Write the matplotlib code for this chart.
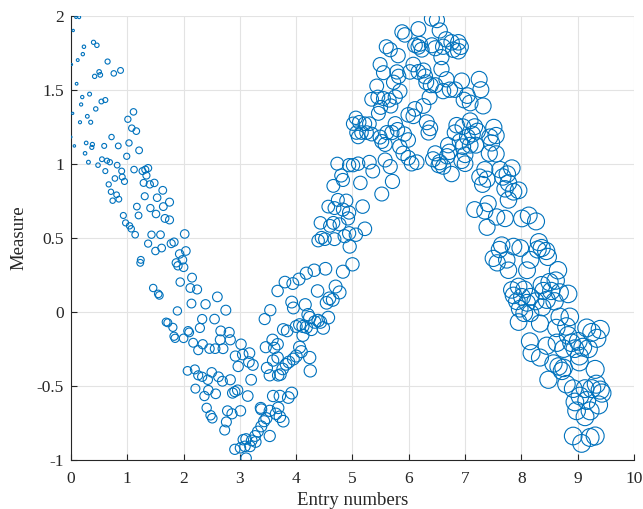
import matplotlib
matplotlib.use("Agg")
import matplotlib.pyplot as plt

# points, grouped along the curve
start_pts = [
    (0.09, 1.99), (0.145, 1.99), (0.04, 1.90), (0.40, 1.82), (0.46, 1.80), (0.23, 1.79),
    (0.21, 1.74), (0.12, 1.70), (0.01, 1.67), (0.65, 1.69), (0.88, 1.63), (0.76, 1.61),
    (0.50, 1.62), (0.52, 1.60), (0.42, 1.59), (0.10, 1.54), (0.33, 1.47), (0.20, 1.45),
    (0.61, 1.43), (0.54, 1.42), (0.18, 1.40), (0.44, 1.37), (0.03, 1.34), (0.29, 1.32),
    (1.11, 1.35), (0.16, 1.28), (0.35, 1.28), (1.01, 1.30), (1.08, 1.24), (1.16, 1.22),
    (0.00, 1.18), (0.72, 1.18), (0.27, 1.14), (0.38, 1.13), (0.37, 1.11), (0.06, 1.12),
    (0.59, 1.12), (0.84, 1.12), (1.03, 1.14), (0.25, 1.07), (1.21, 1.09), (0.99, 1.05),
    (0.55, 1.03), (0.64, 1.02), (0.69, 1.01), (0.31, 1.01), (0.48, 0.99), (0.82, 0.99),
    (0.90, 0.95), (0.61, 0.95), (1.12, 0.96), (1.27, 0.95), (1.32, 0.96), (1.37, 0.97),
    (1.34, 0.92), (0.91, 0.91), (0.95, 0.88), (0.78, 0.90), (1.29, 0.87), (1.40, 0.86),
    (1.48, 0.87), (0.67, 0.86), (1.63, 0.82), (0.71, 0.81), (0.81, 0.79), (1.31, 0.78),
    (1.53, 0.77), (0.74, 0.75), (0.85, 0.76), (1.17, 0.71), (1.41, 0.70), (1.64, 0.71),
    (1.75, 0.74), (0.93, 0.65), (0.97, 0.60), (1.04, 0.58), (1.07, 0.56), (1.14, 0.52),
    (1.20, 0.65), (1.37, 0.46), (1.24, 0.35), (1.23, 0.33),
]

descent_pts = [
    (1.51, 0.66), (1.67, 0.63), (1.75, 0.62), (1.43, 0.52), (1.59, 0.52), (2.02, 0.525),
    (1.78, 0.46), (1.83, 0.47), (1.61, 0.43), (1.50, 0.41), (2.04, 0.41), (1.93, 0.39),
    (1.98, 0.35), (1.87, 0.33), (1.90, 0.31), (2.00, 0.30), (2.15, 0.23), (1.94, 0.20),
    (1.46, 0.16), (1.55, 0.12), (1.57, 0.11), (2.12, 0.16), (2.24, 0.15), (2.60, 0.10),
    (2.14, 0.055), (2.39, 0.05), (2.75, 0.01), (1.89, 0.005), (2.33, -0.05), (2.55, -0.05),
    (1.69, -0.07), (1.72, -0.075), (1.81, -0.106), (2.29, -0.11), (2.08, -0.13), (2.10, -0.14),
    (2.66, -0.13), (2.81, -0.14), (1.83, -0.166), (1.85, -0.18), (2.00, -0.18), (2.65, -0.19),
    (2.83, -0.19), (2.17, -0.21), (2.34, -0.22), (3.02, -0.22), (2.56, -0.25), (2.70, -0.25),
]

trough_pts = [
    (2.26, -0.26), (2.46, -0.25), (3.46, -0.24), (3.61, -0.245), (3.67, -0.22), (2.92, -0.30),
    (3.05, -0.29), (3.17, -0.28), (3.16, -0.34), (3.23, -0.36), (2.97, -0.37), (3.48, -0.38),
    (3.59, -0.33), (3.67, -0.31), (2.07, -0.40), (2.20, -0.39), (2.26, -0.43), (2.33, -0.44),
    (2.50, -0.41), (2.43, -0.46), (2.62, -0.44), (2.69, -0.47), (2.83, -0.46), (3.20, -0.46),
    (3.53, -0.43), (3.68, -0.43), (2.21, -0.52), (2.44, -0.53), (2.37, -0.57), (2.57, -0.555),
    (2.87, -0.55), (2.91, -0.54), (2.96, -0.53), (3.14, -0.57), (3.59, -0.57), (2.41, -0.65),
    (2.78, -0.67), (2.86, -0.69), (3.01, -0.67), (3.37, -0.65), (3.38, -0.66), (3.53, -0.67),
    (3.64, -0.69), (3.68, -0.65), (2.48, -0.70), (2.51, -0.72), (3.47, -0.72), (3.43, -0.74),
    (2.76, -0.745), (3.38, -0.775), (3.32, -0.81), (3.27, -0.84), (3.21, -0.87), (2.73, -0.80),
    (3.53, -0.84), (3.06, -0.865), (3.11, -0.86), (3.28, -0.88), (3.18, -0.91), (2.91, -0.93),
    (3.01, -0.92), (3.09, -0.91), (3.11, -0.99),
]

rise_pts = [
    (4.39, 0.48), (4.45, 0.50), (4.51, 0.49), (4.68, 0.49), (4.86, 0.51), (4.94, 0.53),
    (5.06, 0.52), (4.95, 0.44), (5.00, 0.32), (4.83, 0.27), (4.52, 0.29), (4.32, 0.28),
    (4.18, 0.26), (4.05, 0.22), (3.94, 0.19), (3.80, 0.20), (3.67, 0.14), (4.70, 0.17),
    (4.77, 0.13), (4.38, 0.14), (4.59, 0.09), (4.54, 0.06), (4.65, 0.08), (3.92, 0.065),
    (3.95, 0.025), (4.16, 0.047), (3.54, 0.01), (3.44, -0.05), (4.21, -0.02), (4.24, -0.04),
    (4.57, -0.04), (4.39, -0.06), (4.33, -0.07), (4.43, -0.07), (4.06, -0.088), (4.12, -0.10),
    (4.18, -0.105), (4.00, -0.10), (4.27, -0.12), (4.48, -0.11), (3.77, -0.12), (3.84, -0.13),
    (4.12, -0.16), (3.58, -0.19), (4.06, -0.24), (4.09, -0.27), (4.00, -0.30), (3.95, -0.32),
    (3.87, -0.34), (3.82, -0.356), (3.76, -0.387), (3.72, -0.425), (4.24, -0.31), (4.25, -0.40),
    (3.71, -0.57), (3.86, -0.58), (3.92, -0.55), (3.71, -0.71), (3.77, -0.74),
    (5.46, 1.34), (5.06, 1.31), (5.01, 1.27), (5.12, 1.28), (5.22, 1.27), (5.30, 1.27),
    (5.07, 1.21), (5.16, 1.21), (5.25, 1.21), (5.34, 1.20), (5.10, 1.18), (5.49, 1.18),
    (5.52, 1.15), (5.58, 1.13), (5.61, 1.21), (5.70, 1.21), (5.58, 1.025), (5.67, 0.98),
    (5.30, 1.01), (5.36, 0.95), (5.10, 1.00), (5.01, 0.99), (4.94, 0.99), (4.73, 1.00),
    (4.80, 0.92), (4.83, 0.89), (4.66, 0.85), (5.14, 0.87), (5.71, 0.88), (5.52, 0.795),
    (4.74, 0.755), (4.89, 0.75), (4.57, 0.71), (4.68, 0.70), (4.83, 0.69), (4.94, 0.67),
    (4.92, 0.63), (5.18, 0.71), (4.66, 0.60), (4.77, 0.59), (4.60, 0.58), (4.43, 0.60),
    (5.22, 0.56),
    (5.60, 1.79), (5.49, 1.67), (5.55, 1.615), (5.43, 1.525), (5.34, 1.435), (5.45, 1.45),
    (5.55, 1.44), (5.65, 1.43), (5.68, 1.39), (5.50, 1.38),
]

peak_pts = [
    (6.41, 1.98), (6.50, 1.97), (6.55, 1.90), (5.88, 1.89), (5.93, 1.87), (6.17, 1.91),
    (6.20, 1.81), (6.17, 1.79), (6.23, 1.77), (6.11, 1.80), (6.41, 1.80), (6.47, 1.78),
    (6.61, 1.79), (6.66, 1.84), (6.76, 1.82), (6.88, 1.82), (6.92, 1.79), (6.88, 1.76),
    (6.79, 1.77), (6.58, 1.72), (5.81, 1.73), (5.67, 1.77), (6.08, 1.67), (6.02, 1.62),
    (6.17, 1.62), (6.26, 1.63), (6.29, 1.59), (6.31, 1.55), (6.39, 1.53), (6.47, 1.53),
    (5.79, 1.62), (5.82, 1.59), (5.73, 1.55), (6.58, 1.64), (6.67, 1.57), (6.82, 1.50),
    (6.94, 1.56), (7.04, 1.46), (7.09, 1.41), (6.98, 1.43), (7.25, 1.57), (7.28, 1.50),
    (7.32, 1.39), (6.61, 1.49), (6.73, 1.50), (6.37, 1.45), (6.26, 1.39), (6.11, 1.37),
    (5.99, 1.33), (6.08, 1.32), (5.84, 1.49), (5.76, 1.45), (6.32, 1.28), (6.38, 1.24),
    (6.35, 1.21), (5.76, 1.27), (5.80, 1.23), (5.92, 1.20), (5.99, 1.16), (5.84, 1.115),
    (5.90, 1.07), (5.99, 1.04), (6.14, 1.01), (6.05, 1.00), (6.85, 1.26), (6.96, 1.25),
    (7.09, 1.29), (7.17, 1.25), (7.22, 1.22), (7.13, 1.20), (7.04, 1.18), (6.91, 1.15),
    (6.82, 1.21), (6.96, 1.115), (7.09, 1.125), (7.19, 1.125), (7.51, 1.245), (7.44, 1.18),
    (7.55, 1.19), (7.47, 1.14), (7.43, 1.07), (7.55, 1.066), (6.70, 1.125), (6.72, 1.08),
    (6.68, 1.05), (6.47, 1.07), (6.43, 1.03), (6.55, 1.01), (7.00, 1.06), (7.00, 1.00),
    (6.94, 1.02), (6.61, 0.98), (6.76, 0.93), (6.53, 0.99), (7.35, 0.96), (7.26, 0.91),
    (7.39, 0.895), (7.62, 0.96), (7.67, 0.91), (7.75, 0.93), (7.77, 0.87), (7.71, 0.83),
    (7.31, 0.86),
]

fall_pts = [
    (7.83, 0.97), (7.95, 0.82), (7.86, 0.81), (7.77, 0.755), (7.17, 0.69), (7.41, 0.73),
    (7.35, 0.68), (7.56, 0.64), (7.71, 0.63), (7.39, 0.57), (8.01, 0.63), (8.13, 0.65),
    (8.26, 0.61), (7.65, 0.45), (7.61, 0.42), (7.86, 0.44), (7.98, 0.43), (8.31, 0.47),
    (8.36, 0.43), (8.29, 0.42), (8.44, 0.41), (8.47, 0.37), (7.50, 0.36), (7.57, 0.33),
    (7.74, 0.35), (7.77, 0.28), (8.16, 0.35), (8.10, 0.28), (8.65, 0.28), (8.50, 0.20),
    (8.61, 0.21), (8.36, 0.18), (8.39, 0.14), (8.53, 0.14), (8.68, 0.13), (8.59, 0.07),
    (8.83, 0.12), (7.83, 0.147), (7.95, 0.17), (8.05, 0.15), (7.86, 0.11), (8.01, 0.10),
    (8.16, 0.10), (8.25, 0.07), (7.92, 0.07), (8.10, 0.06), (7.97, 0.02), (8.05, -0.01),
    (8.16, -0.01), (8.37, 0.03), (8.45, 0.08), (7.95, -0.07), (8.33, -0.08), (8.68, -0.035),
    (8.86, -0.035), (8.62, -0.11), (8.80, -0.10),
    (9.16, -0.11), (9.40, -0.12), (9.25, -0.14), (9.34, -0.18), (9.01, -0.20), (8.95, -0.25),
    (9.09, -0.24), (9.19, -0.25), (9.03, -0.30), (9.03, -0.34), (8.15, -0.20), (8.18, -0.28),
    (8.33, -0.31), (8.45, -0.23), (8.83, -0.16), (8.89, -0.21), (8.63, -0.21), (8.75, -0.25),
    (8.57, -0.35), (8.66, -0.37), (8.75, -0.38), (8.72, -0.40), (8.48, -0.46), (8.80, -0.49),
    (8.92, -0.52), (9.31, -0.39), (9.33, -0.49), (9.40, -0.53), (9.43, -0.55), (9.25, -0.52),
    (9.13, -0.52), (8.95, -0.61), (9.04, -0.57), (9.16, -0.60), (9.37, -0.63), (9.22, -0.67),
    (9.13, -0.71), (8.98, -0.67), (8.92, -0.84), (9.07, -0.89), (9.22, -0.85), (9.31, -0.84),
]

x_ticks = [0, 1, 2, 3, 4, 5, 6, 7, 8, 9, 10]
y_ticks = [-1, -0.5, 0, 0.5, 1, 1.5, 2]
x_label = "Entry numbers"
y_label = "Measure"

plt.rcParams['font.family'] = ['Liberation Serif', 'DejaVu Serif']

all_pts = start_pts + descent_pts + trough_pts + rise_pts + peak_pts + fall_pts
xs = [p[0] for p in all_pts]
ys = [p[1] for p in all_pts]
# marker area grows with the entry number
sizes = [2 + 17.8 * x for x in xs]

fig = plt.figure(figsize=(6.43, 5.09), dpi=100)
ax = fig.add_axes([0.1104, 0.0969, 0.8756, 0.8723])

ax.scatter(xs, ys, s=sizes, facecolors='none', edgecolors='#0072BD', linewidths=0.8, zorder=3)

ax.set_xlim(0, 10)
ax.set_ylim(-1, 2)
ax.set_xticks(x_ticks)
ax.set_yticks(y_ticks)
ax.set_xticklabels([str(t) for t in x_ticks])
ax.set_yticklabels(['-1', '-0.5', '0', '0.5', '1', '1.5', '2'])
ax.grid(True, color='#e3e3e3', linewidth=0.8, zorder=0)
ax.set_axisbelow(True)

for side in ['top', 'right']:
    ax.spines[side].set_visible(False)
for side in ['left', 'bottom']:
    ax.spines[side].set_color('#262626')
    ax.spines[side].set_linewidth(0.8)

ax.tick_params(direction='in', length=4, width=0.8, colors='#262626', labelsize=12.5,
               top=False, right=False)
ax.tick_params(axis='x', pad=8)
ax.tick_params(axis='y', pad=5)

ax.set_xlabel(x_label, fontsize=13.5, color='#262626', labelpad=4)
ax.set_ylabel(y_label, fontsize=13.5, color='#262626', labelpad=7)

fig.savefig('out.png', dpi=100)
